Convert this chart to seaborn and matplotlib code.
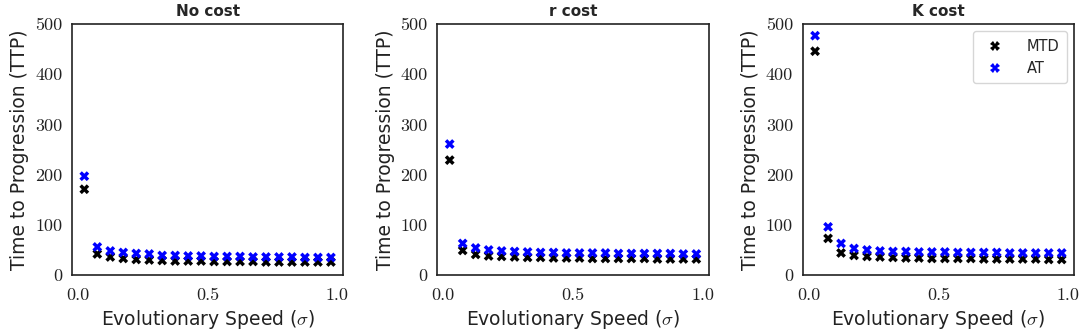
import numpy as np
import pandas as pd
import matplotlib
matplotlib.use('Agg')
import matplotlib.pyplot as plt
import seaborn as sns

# evolutionary speed values (sigma)
sigma = [0.025, 0.075, 0.125, 0.175, 0.225, 0.275, 0.325, 0.375, 0.425, 0.475,
         0.525, 0.575, 0.625, 0.675, 0.725, 0.775, 0.825, 0.875, 0.925, 0.975]

titles = ['No cost', 'r cost', 'K cost']

# TTP values
mtd_nocost = [171, 42, 36, 33, 31, 30, 29, 28, 28, 28, 27, 27, 27, 27, 26, 26, 26, 26, 26, 26]
at_nocost = [197, 56, 48, 45, 43, 42, 39, 39, 38, 38, 37, 37, 37, 36, 36, 36, 36, 35, 35, 35]

mtd_rcost = [229, 49, 41, 38, 37, 36, 35, 35, 34, 34, 34, 33, 33, 33, 33, 33, 32, 32, 32, 32]
at_rcost = [261, 63, 54, 50, 48, 47, 46, 45, 45, 44, 44, 44, 44, 43, 43, 43, 43, 43, 42, 42]

mtd_kcost = [446, 73, 44, 39, 37, 36, 35, 34, 34, 33, 33, 33, 33, 32, 32, 32, 32, 32, 31, 31]
at_kcost = [477, 96, 63, 53, 50, 48, 47, 47, 46, 46, 46, 45, 45, 45, 45, 44, 44, 44, 44, 44]

mtd_all = [mtd_nocost, mtd_rcost, mtd_kcost]
at_all = [at_nocost, at_rcost, at_kcost]

sns.set_style('white')
plt.rcParams['font.family'] = ['DejaVu Sans']
plt.rcParams['mathtext.fontset'] = 'cm'

fig, axes = plt.subplots(1, 3, figsize=(10.84, 3.35), dpi=100)
fig.subplots_adjust(left=0.0664, right=0.9908, bottom=0.179, top=0.928, wspace=0.347)

pal = {'MTD': 'black', 'AT': 'blue'}

for i, ax in enumerate(axes):
    df = pd.DataFrame({
        'sigma': sigma + sigma,
        'TTP': mtd_all[i] + at_all[i],
        'Strategy': ['MTD'] * len(sigma) + ['AT'] * len(sigma),
    })
    sns.scatterplot(data=df, x='sigma', y='TTP', hue='Strategy', palette=pal,
                    marker='X', s=50, linewidth=0, ax=ax, legend=(i == 2))
    ax.set_ylim(0, 500)
    ax.set_xticks([0.0, 0.5, 1.0])
    ax.set_xticklabels(['0.0', '0.5', '1.0'])
    ax.set_yticks([0, 100, 200, 300, 400, 500])
    ax.set_yticklabels(['0', '100', '200', '300', '400', '500'])
    for lab in ax.get_xticklabels() + ax.get_yticklabels():
        lab.set_fontfamily('cmr10')
        lab.set_fontsize(13)
        lab.set_color('#222222')
    ax.tick_params(axis='x', length=0, pad=9)
    ax.tick_params(axis='y', length=0, pad=7)
    ax.set_title(titles[i], fontweight='bold', fontsize=11)
    ax.set_xlabel(r'Evolutionary Speed ($\sigma$)', fontsize=13.5, color='#222222')
    ax.set_ylabel('Time to Progression (TTP)', fontsize=13.5, color='#222222')
    for sp in ax.spines.values():
        sp.set_color('#222222')
        sp.set_linewidth(1.2)
    if i == 2:
        leg = ax.legend(loc='upper right', fontsize=10.5, markerscale=1.0,
                        handletextpad=1.2, borderpad=0.5)
        leg.get_frame().set_edgecolor('#cccccc')

fig.savefig('out.png', dpi=100)
